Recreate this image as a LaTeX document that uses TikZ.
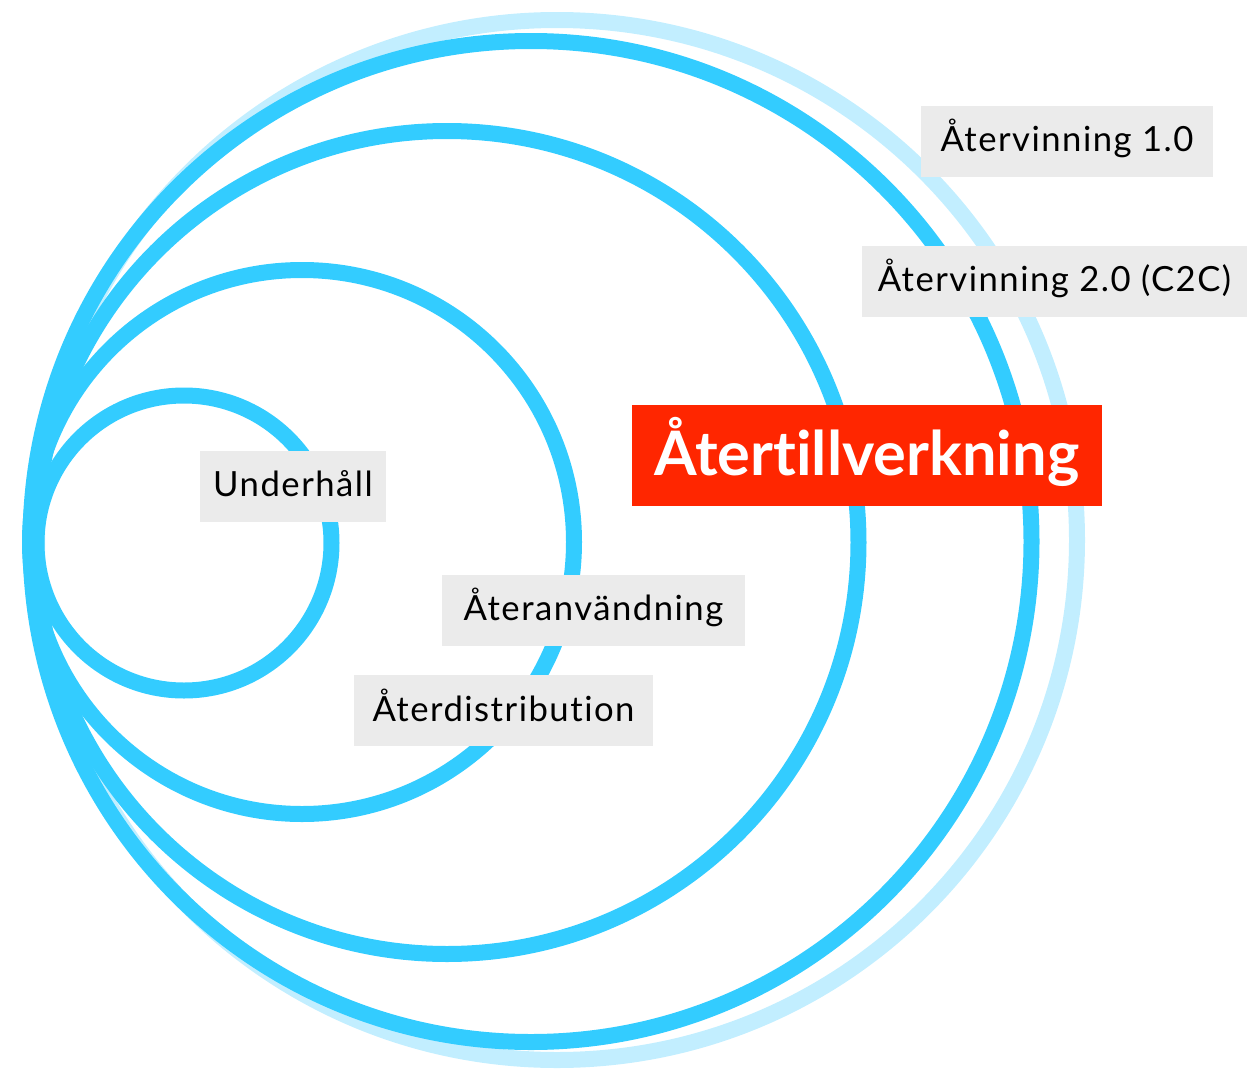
\documentclass[tikz,border=0pt]{standalone}
\usepackage{fontspec}
\setmainfont{Lato}[Ligatures={NoCommon}]
\newfontfamily\lblfont{Lato}[Ligatures={NoCommon},LetterSpace=4.3]
\definecolor{ringblue}{HTML}{33CCFF}
\definecolor{ringlight}{HTML}{C2EEFF}
\definecolor{boxgray}{HTML}{EBEBEB}
\definecolor{boxred}{HTML}{FF2600}
\tikzset{
  ring/.style={draw=ringblue, line width=12pt},
  ringpale/.style={draw=ringlight, line width=12pt},
  lbl/.style={fill=boxgray, inner sep=0pt, text height=34.5pt, text depth=18.75pt,
    font=\lblfont\fontsize{26}{30}\selectfont, text=black, align=center},
  hot/.style={fill=boxred, inner sep=0pt, text height=52.5pt, text depth=23.25pt,
    font=\fontsize{46}{52}\selectfont\bfseries, text=white, align=center}
}
\begin{document}
\begin{tikzpicture}[x=0.75pt,y=-0.75pt]
\useasboundingbox (0,0) rectangle (1247,1071);
% circles
\draw[ringpale] (557,540) circle[radius=520];
\draw[ring] (531,541.5) circle[radius=500.5];
\draw[ring] (447,542.5) circle[radius=411.5];
\draw[ring] (302,542) circle[radius=272];
\draw[ring] (184,543) circle[radius=147.5];
% labels
\node[lbl, minimum width=292*0.75pt] (r1) at (1067,141) {Återvinning 1.0};
\node[lbl, minimum width=385*0.75pt] (r2) at (1054.5,281) {Återvinning 2.0 (C2C)};
\node[hot, minimum width=470*0.75pt] (rm) at (867,455.5) {Återtillverkning};
\node[lbl, minimum width=186*0.75pt] (uh) at (293,486) {Underhåll};
\node[lbl, minimum width=303*0.75pt] (ra) at (593.5,610) {Återanvändning};
\node[lbl, minimum width=299*0.75pt] (rd) at (503.5,710.5) {Återdistribution};
\end{tikzpicture}
\end{document}
